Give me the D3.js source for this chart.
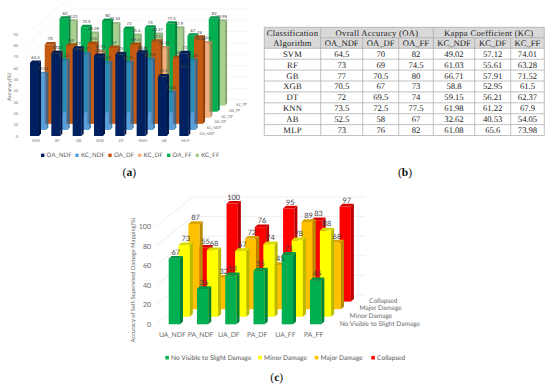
<!DOCTYPE html>
<html>
<head>
<meta charset="utf-8">
<script src="https://cdn.jsdelivr.net/npm/d3@7"></script>
<style>
    html, body { margin: 0; padding: 0; background: #fff; }
    svg { display: block; text-rendering: geometricPrecision; }
</style>
</head>
<body>
<svg id="chart" width="550" height="386"></svg>
<script>
const algorithms = ['SVM', 'RF', 'GB', 'XGB', 'DT', 'KNN', 'AB', 'MLP'];
const accuracyNames = ['OA_NDF', 'KC_NDF', 'OA_DF', 'KC_DF', 'OA_FF', 'KC_FF'];
const oaNdf = [64.5, 73, 77, 70.5, 72, 73.5, 52.5, 73];
const oaDf = [70, 69, 70.5, 67, 69.5, 72.5, 58, 76];
const oaFf = [82, 74.5, 80, 73, 74, 77.5, 67, 82];
const kcNdf = [49.02, 61.03, 66.71, 58.8, 59.15, 61.98, 32.62, 61.08];
const kcDf = [57.12, 55.61, 57.91, 52.95, 56.21, 61.22, 40.53, 65.6];
const kcFf = [74.01, 63.28, 71.52, 61.5, 62.37, 67.9, 54.05, 73.98];
const accuracyTicks = [0, 10, 20, 30, 40, 50, 60, 70, 80, 90];

const damageSets = ['UA_NDF', 'PA_NDF', 'UA_DF', 'PA_DF', 'UA_FF', 'PA_FF'];
const damageNames = ['No Visible to Slight Damage', 'Minor Damage', 'Major Damage', 'Collapsed'];
const noVisible = [67, 36, 50, 55, 71, 45];
const minorDamage = [73, 68, 67, 74, 78, 88];
const majorDamage = [87, 32, 72, 45, 89, 68];
const collapsed = [55, 100, 76, 95, 83, 97];
const damageTicks = [0, 20, 40, 60, 80, 100];

// the KC bars are see-through, so their base colour is a bit stronger than what shows on white
const accuracyColors = ['#002060', '#2E86D0', '#C55A11', '#F19D64', '#00B050', '#94C572'];
const accuracyOpacity = [1, 0.8, 1, 0.8, 1, 0.8];
const damageColors = ['#00B050', '#FFFF00', '#FFC000', '#FF0000'];

const svg = d3.select('#chart');
const sans = 'Lato, "Open Sans", sans-serif';
const serif = '"Liberation Serif", serif';

// fake 3D clustered column chart: every row sits further back and to the right
function bars3d(o) {
    const g = svg.append('g');
    const x = d3.scalePoint().domain(o.categories).range(o.xRange);
    const y = d3.scaleLinear().domain(o.yDomain).range(o.yRange);
    const depthX = d3.scalePoint().domain(o.names).range([0, o.depth[0]]);
    const depthY = d3.scalePoint().domain(o.names).range([0, o.depth[1]]);
    const opacityOf = i => o.opacity ? o.opacity[i] : 1;

    // walls
    const grid = g.append('g').attr('stroke', o.gridColor).attr('stroke-width', 0.6).attr('fill', 'none');
    o.ticks.forEach(t => {
        const yy = y(t);
        grid.append('path').attr('d', d3.line()([
            [o.gridLeft, yy],
            [o.gridLeft + o.depth[0] + o.wallGap[0], yy - o.depth[1] - o.wallGap[1]],
            [o.gridRight, yy - o.depth[1] - o.wallGap[1]]
        ]));
    });

    const rows = o.names.map((name, i) => ({ name, i, values: o.series[i] })).reverse();
    const labels = [];
    rows.forEach(row => {
        const color = d3.color(o.colors[row.i]);
        const dx = depthX(row.name);
        const dy = depthY(row.name);
        const bar = g.append('g').selectAll('g')
            .data(row.values)
            .join('g')
            .attr('fill-opacity', opacityOf(row.i));
        const left = (d, i) => x(o.categories[i]) + dx;
        const base = y(0) - dy;
        const top = d => y(d) - dy;

        bar.append('rect')
            .attr('x', left)
            .attr('y', top)
            .attr('width', o.barWidth)
            .attr('height', d => base - top(d))
            .attr('fill', color.formatHex());
        bar.append('path')
            .attr('d', (d, i) => {
                const xr = left(d, i) + o.barWidth;
                return d3.line()([[xr, top(d)], [xr + o.skew[0], top(d) - o.skew[1]], [xr + o.skew[0], base - o.skew[1]], [xr, base]]) + 'Z';
            })
            .attr('fill', color.darker(0.9).formatHex());
        bar.append('path')
            .attr('d', (d, i) => {
                const xl = left(d, i);
                return d3.line()([[xl, top(d)], [xl + o.barWidth, top(d)], [xl + o.barWidth + o.skew[0], top(d) - o.skew[1]], [xl + o.skew[0], top(d) - o.skew[1]]]) + 'Z';
            })
            .attr('fill', color.darker(0.45).formatHex());

        row.values.forEach((d, i) => labels.push({
            text: d,
            x: left(d, i) + (o.barWidth + o.skew[0]) / 2,
            y: top(d) - o.skew[1] - o.labelGap
        }));
    });

    // value labels stay on top of all the bars
    g.append('g').selectAll('text')
        .data(labels)
        .join('text')
        .attr('x', d => d.x)
        .attr('y', d => d.y)
        .attr('text-anchor', 'middle')
        .attr('font-family', sans)
        .attr('font-size', o.labelSize)
        .attr('fill', '#404040')
        .text(d => d.text);

    // value axis
    const yAxis = g.append('g')
        .attr('transform', `translate(${o.yAxisX},0)`)
        .call(d3.axisLeft(y).tickValues(o.ticks).tickSize(0).tickPadding(0));
    yAxis.select('.domain').remove();
    yAxis.selectAll('text').attr('font-family', sans).attr('font-size', o.tickSize).attr('fill', o.textColor);

    // category axis
    const xAxis = g.append('g')
        .attr('transform', `translate(${o.barWidth / 2 + o.catShift},${o.catY})`)
        .call(d3.axisBottom(x).tickSize(0).tickPadding(0));
    xAxis.select('.domain').remove();
    xAxis.selectAll('text').attr('font-family', sans).attr('font-size', o.catSize).attr('fill', o.textColor);

    // series names along the depth axis
    g.append('g').selectAll('text')
        .data(o.names)
        .join('text')
        .attr('x', d => o.depthLabel[0] + depthX(d) * o.depthLabelScale[0])
        .attr('y', d => o.depthLabel[1] - depthY(d) * o.depthLabelScale[1])
        .attr('font-family', sans)
        .attr('font-size', o.depthSize)
        .attr('fill', o.textColor)
        .text(d => d);

    g.append('text')
        .attr('transform', `translate(${o.titlePos[0]},${o.titlePos[1]}) rotate(-90)`)
        .attr('text-anchor', 'middle')
        .attr('font-family', sans)
        .attr('font-size', o.titleSize)
        .attr('fill', o.textColor)
        .text(o.title);

    // legend
    const item = g.append('g').selectAll('g')
        .data(o.names)
        .join('g')
        .attr('transform', (d, i) => `translate(${o.legendX[i]},${o.legendY})`);
    item.append('rect')
        .attr('x', 0)
        .attr('y', -o.swatch / 2)
        .attr('width', o.swatch)
        .attr('height', o.swatch)
        .attr('fill', (d, i) => o.colors[i])
        .attr('fill-opacity', (d, i) => opacityOf(i));
    item.append('text')
        .attr('x', o.swatch + 2.2)
        .attr('dy', '0.35em')
        .attr('font-family', sans)
        .attr('font-size', o.legendSize)
        .attr('letter-spacing', o.legendSpacing)
        .attr('fill', '#595959')
        .text(d => d);
}

bars3d({
    categories: algorithms,
    names: accuracyNames,
    series: [oaNdf, kcNdf, oaDf, kcDf, oaFf, kcFf],
    colors: accuracyColors,
    opacity: accuracyOpacity,
    ticks: accuracyTicks,
    yDomain: [0, 90],
    yRange: [136, 34],
    xRange: [30, 179.3],
    depth: [36.8, 30.4],
    barWidth: 9,
    skew: [2, 2.5],
    labelGap: 1.6,
    labelSize: 4.2,
    gridColor: '#efefef',
    gridLeft: 26,
    gridRight: 250,
    wallGap: [8, 6],
    yAxisX: 18,
    tickSize: 3.9,
    catY: 139,
    catShift: 1,
    catSize: 3.9,
    textColor: '#6b6b6b',
    depthLabel: [199.5, 135],
    depthLabelScale: [1.0, 0.95],
    depthSize: 3.7,
    titlePos: [11, 87],
    titleSize: 5.2,
    title: 'Accuracy(%)',
    legendX: [41, 75.3, 108.3, 138, 167, 195.6],
    legendY: 155.3,
    swatch: 3.4,
    legendSize: 6.1,
    legendSpacing: 0.15
});

bars3d({
    categories: damageSets,
    names: damageNames,
    series: [noVisible, minorDamage, majorDamage, collapsed],
    colors: damageColors,
    ticks: damageTicks,
    yDomain: [0, 100],
    yRange: [324.3, 226.3],
    xRange: [168.7, 310],
    depth: [29.6, 22.7],
    barWidth: 11.3,
    skew: [3, 2.7],
    labelGap: 1.3,
    labelSize: 7.4,
    gridColor: '#e4e4e4',
    gridLeft: 156,
    gridRight: 365,
    wallGap: [7, 6.6],
    yAxisX: 151,
    tickSize: 7,
    catY: 332,
    catShift: -2.5,
    catSize: 6.8,
    textColor: '#6b6b6b',
    depthLabel: [339.7, 325.5],
    depthLabelScale: [1.0, 1.0],
    depthSize: 6.6,
    titlePos: [134.5, 280],
    titleSize: 5.8,
    title: 'Accuracy of Self-Supervised Damage Mapping(%)',
    legendX: [165.3, 258.3, 314.7, 371.3],
    legendY: 357.7,
    swatch: 3.6,
    legendSize: 6.6,
    legendSpacing: 0
});

// table (b)
const colEdges = [264.3, 320.7, 362.7, 398.7, 433.3, 474.7, 510.7, 544.3];
const rowTop = 27.3, headerH = 10.5, rowH = 10.9;
const tableColumns = [oaNdf, oaDf, oaFf, kcNdf, kcDf, kcFf];
const subHeaders = ['OA_NDF', 'OA_DF', 'OA_FF', 'KC_NDF', 'KC_DF', 'KC_FF'];
const table = svg.append('g').attr('font-family', serif).attr('font-size', 8.6).attr('fill', '#222').attr('text-anchor', 'middle');

table.append('rect')
    .attr('x', colEdges[0]).attr('y', rowTop)
    .attr('width', colEdges[7] - colEdges[0]).attr('height', headerH * 2)
    .attr('fill', '#d9d9d9');

const bodyTop = rowTop + headerH * 2;
const bodyBottom = bodyTop + rowH * algorithms.length;
const lines = table.append('g').attr('stroke', '#a6a6a6').attr('stroke-width', 0.7);
d3.range(algorithms.length + 1).forEach(i => {
    lines.append('line').attr('x1', colEdges[0]).attr('x2', colEdges[7])
        .attr('y1', bodyTop + i * rowH).attr('y2', bodyTop + i * rowH);
});
lines.append('line').attr('x1', colEdges[0]).attr('x2', colEdges[7]).attr('y1', rowTop).attr('y2', rowTop);
lines.append('line').attr('x1', colEdges[1]).attr('x2', colEdges[7]).attr('y1', rowTop + headerH).attr('y2', rowTop + headerH);
colEdges.forEach((e, i) => {
    const spanOnly = i === 2 || i === 3 || i === 5 || i === 6;
    lines.append('line').attr('x1', e).attr('x2', e)
        .attr('y1', spanOnly ? rowTop + headerH : rowTop).attr('y2', bodyBottom);
});

const colMid = i => (colEdges[i] + colEdges[i + 1]) / 2;
table.append('text').attr('x', colMid(0)).attr('y', rowTop + headerH / 2).attr('dy', '0.35em').attr('letter-spacing', 0.3).text('Classification');
table.append('text').attr('x', colMid(0)).attr('y', rowTop + headerH * 1.5).attr('dy', '0.35em').attr('letter-spacing', 0.3).text('Algorithm');
table.append('text').attr('x', (colEdges[1] + colEdges[4]) / 2).attr('y', rowTop + headerH / 2).attr('dy', '0.35em').attr('letter-spacing', 0.3).text('Ovrall Accuracy (OA)');
table.append('text').attr('x', (colEdges[4] + colEdges[7]) / 2).attr('y', rowTop + headerH / 2).attr('dy', '0.35em').attr('letter-spacing', 0.3).text('Kappa Coefficient (KC)');
table.append('g').selectAll('text').data(subHeaders).join('text')
    .attr('x', (d, i) => colMid(i + 1))
    .attr('y', rowTop + headerH * 1.5)
    .attr('dy', '0.35em')
    .text(d => d);
table.append('g').selectAll('text').data(algorithms).join('text')
    .attr('x', colMid(0))
    .attr('y', (d, i) => bodyTop + (i + 0.5) * rowH)
    .attr('dy', '0.35em')
    .attr('letter-spacing', 0.2)
    .text(d => d);
tableColumns.forEach((col, c) => {
    table.append('g').selectAll('text').data(col).join('text')
        .attr('x', colMid(c + 1))
        .attr('y', (d, i) => bodyTop + (i + 0.5) * rowH)
        .attr('dy', '0.35em')
        .text(d => d);
});

// panel letters
const panels = [['a', 129.3, 176], ['b', 405, 176], ['c', 276.7, 381]];
panels.forEach(([letter, px, py]) => {
    const t = svg.append('text')
        .attr('x', px).attr('y', py)
        .attr('text-anchor', 'middle')
        .attr('font-family', serif)
        .attr('font-size', 11.5)
        .attr('fill', '#111');
    t.append('tspan').text('(');
    t.append('tspan').attr('font-weight', 'bold').text(letter);
    t.append('tspan').text(')');
});
</script>
</body>
</html>
